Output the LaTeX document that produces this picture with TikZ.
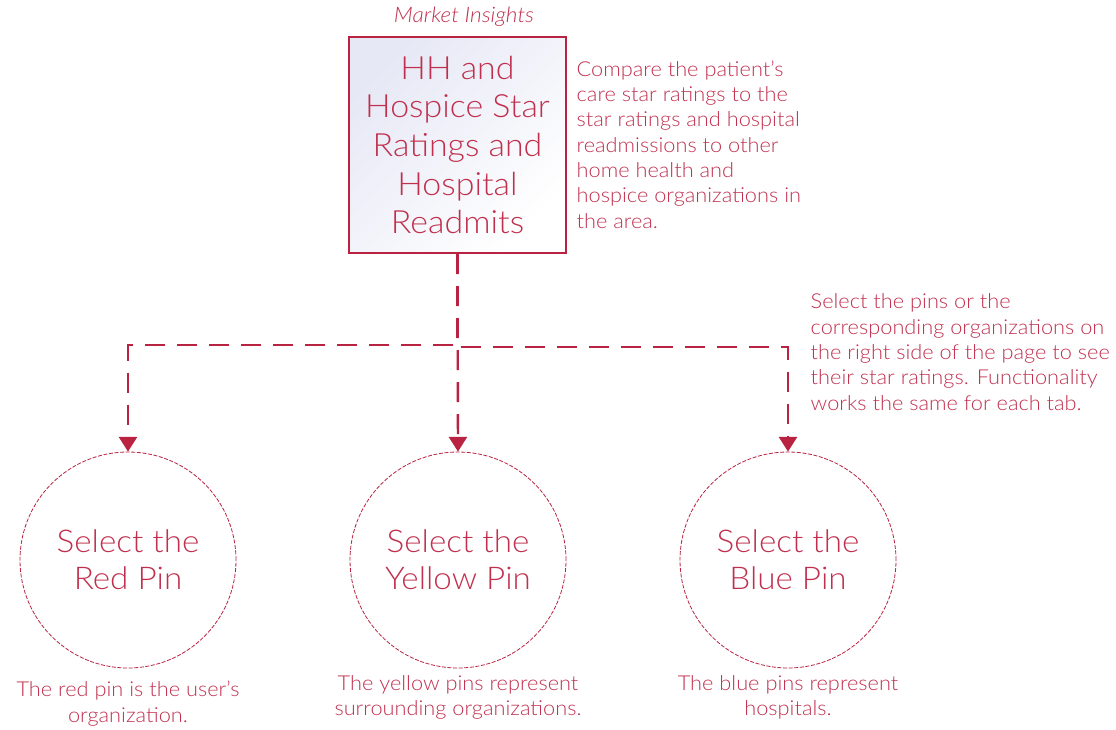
\documentclass[tikz,border=0pt]{standalone}
\usepackage{fontspec}
\setmainfont{Lato Light}[FakeStretch=1.06]
\usepackage{tikz}
\usetikzlibrary{arrows.meta}
\usetikzlibrary{positioning}

\definecolor{insightred}{RGB}{185,34,64}
\definecolor{inktext}{RGB}{192,48,78}
\definecolor{boxtint}{RGB}{230,232,245}

\tikzset{
  topicbox/.style={draw=insightred, line width=1.5pt, minimum width=162.75pt,
    minimum height=162pt, align=center, text=inktext,
    left color=boxtint, right color=white, shading angle=45,
    font=\fontsize{24}{29}\selectfont},
  pinbubble/.style={circle, draw=insightred, line width=0.6pt,
    dash pattern=on 3pt off 1.2pt, minimum size=162pt, align=center,
    text=inktext, font=\fontsize{23.5}{28}\selectfont},
  notetext/.style={align=left, text=inktext, font=\fontsize{15.4}{19}\selectfont},
  pinnote/.style={align=center, text=inktext, font=\fontsize{15.4}{19}\selectfont},
  flow/.style={draw=insightred, line width=1.8pt, dash pattern=on 15pt off 9pt,
    -{Triangle[width=13.5pt,length=11pt]}},
}

\begin{document}
\begin{tikzpicture}[x=0.75pt, y=-0.75pt]
    \useasboundingbox (0,0) rectangle (1116,729);

    % top box
    \node[topicbox] (hh) at (457.5,145) {HH and\\Hospice Star\\Ratings and\\Hospital\\Readmits};
    \node[text=inktext, font=\fontsize{16}{19}\selectfont\itshape] (tab) at (464,17) {Market Insights};
    \node[notetext, anchor=west] (compare) at (572,144.5)
        {Compare the patient’s\\care star ratings to the\\star ratings and hospital\\readmissions to other\\home health and\\hospice organizations in\\the area.};

    % pins
    \node[pinbubble] (red) at (128,560) {Select the\\Red Pin};
    \node[pinbubble] (yellow) at (458,560) {Select the\\Yellow Pin};
    \node[pinbubble] (blue) at (788,560) {Select the\\Blue Pin};

    \node[pinnote] (rednote) at (128,703.5) {The red pin is the user’s\\organization.};
    \node[pinnote] (yellownote) at (458,697.5) {The yellow pins represent\\surrounding organizations.};
    \node[pinnote] (bluenote) at (788,697.5) {The blue pins represent\\hospitals.};

    \node[notetext, anchor=west] (select) at (806,352)
        {Select the pins or the\\corresponding organizations on\\the right side of the page to see\\their star ratings. Functionality\\works the same for each tab.};

    % connectors
    \coordinate (busL) at (128,345);
    \coordinate (busR) at (788,347);
    \draw[flow] (hh.south) |- (busL) -- (red.north);
    \draw[flow] (hh.south) -- (yellow.north);
    \draw[flow] (hh.south) |- (busR) -- (blue.north);
\end{tikzpicture}
\end{document}
